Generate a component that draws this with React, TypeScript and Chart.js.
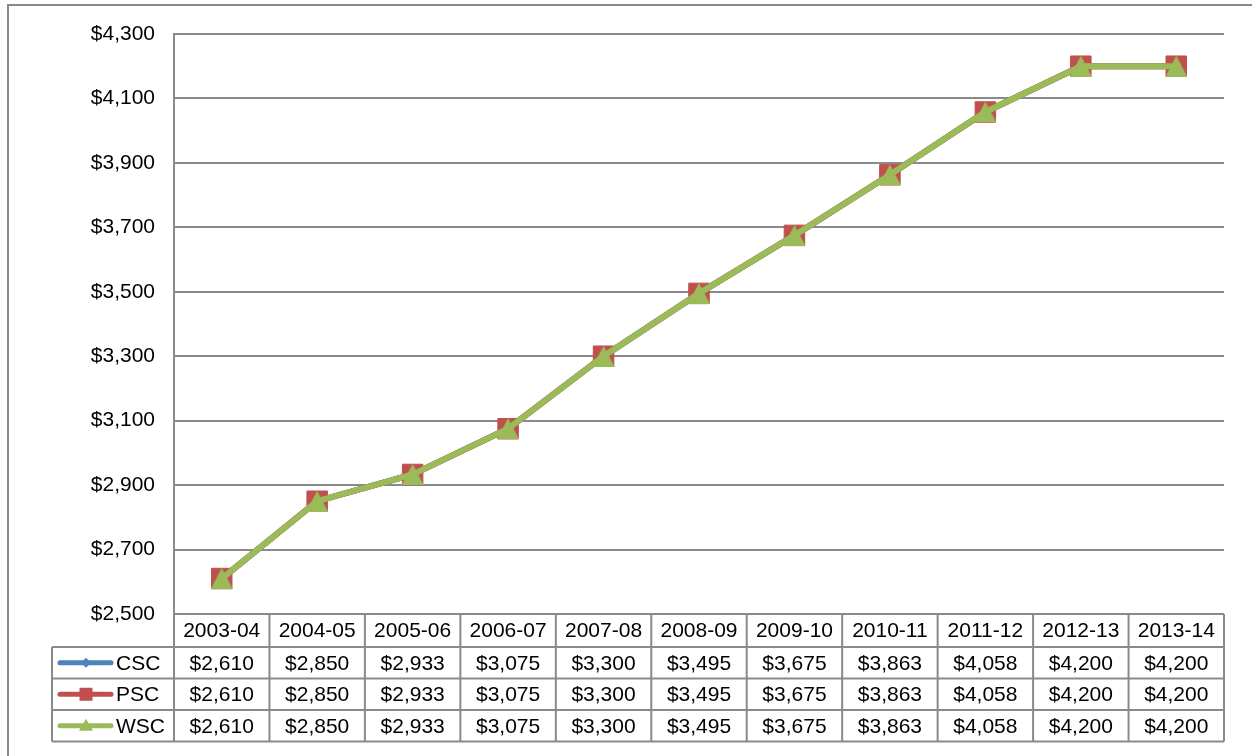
import React, { useEffect, useRef } from "react";
import { Chart, registerables } from "chart.js";

Chart.register(...registerables);

const categories = ["2003-04", "2004-05", "2005-06", "2006-07", "2007-08", "2008-09", "2009-10", "2010-11", "2011-12", "2012-13", "2013-14"];
const cscValues = [2610, 2850, 2933, 3075, 3300, 3495, 3675, 3863, 4058, 4200, 4200];
const pscValues = [2610, 2850, 2933, 3075, 3300, 3495, 3675, 3863, 4058, 4200, 4200];
const wscValues = [2610, 2850, 2933, 3075, 3300, 3495, 3675, 3863, 4058, 4200, 4200];
const seriesNames = ["CSC", "PSC", "WSC"];
const seriesColors = ["#4F81BD", "#C0504D", "#9BBB59"];

const FONT = "'Liberation Sans', Arial, sans-serif";
const GRID = "#8a8a8a";

const fmt = (v: number) => "$" + v.toLocaleString("en-US");

function makeTriangle(w: number, h: number, color: string) {
  const c = document.createElement("canvas");
  c.width = w;
  c.height = h;
  const g = c.getContext("2d")!;
  g.fillStyle = color;
  g.beginPath();
  g.moveTo(w / 2, 0);
  g.lineTo(w, h);
  g.lineTo(0, h);
  g.closePath();
  g.fill();
  return c;
}

const tablePlugin = {
  id: "dataTable",
  afterDraw(chart: any) {
    const ctx = chart.ctx as CanvasRenderingContext2D;
    const xs = chart.scales.x;
    const area = chart.chartArea;
    const n = categories.length;
    const bounds: number[] = [area.left];
    for (let i = 1; i < n; i++) {
      bounds.push((xs.getPixelForValue(i - 1) + xs.getPixelForValue(i)) / 2);
    }
    bounds.push(area.right);
    const legendLeft = 52;
    const rowTops = [area.bottom, area.bottom + 33, area.bottom + 64.5, area.bottom + 96];
    const tableBottom = area.bottom + 127.5;
    ctx.save();
    ctx.strokeStyle = GRID;
    ctx.lineWidth = 2;
    bounds.forEach((bx) => {
      ctx.beginPath();
      ctx.moveTo(bx, area.bottom);
      ctx.lineTo(bx, tableBottom);
      ctx.stroke();
    });
    ctx.beginPath();
    ctx.moveTo(legendLeft, rowTops[1]);
    ctx.lineTo(legendLeft, tableBottom);
    ctx.stroke();
    [rowTops[1], rowTops[2], rowTops[3], tableBottom].forEach((ty) => {
      ctx.beginPath();
      ctx.moveTo(legendLeft, ty);
      ctx.lineTo(area.right, ty);
      ctx.stroke();
    });
    ctx.fillStyle = "#000";
    ctx.font = `21px ${FONT}`;
    ctx.textAlign = "center";
    ctx.textBaseline = "middle";
    categories.forEach((c, i) => {
      const cx = xs.getPixelForValue(i);
      ctx.fillText(c, cx, (rowTops[0] + rowTops[1]) / 2 + 1);
    });
    const allVals = [cscValues, pscValues, wscValues];
    allVals.forEach((vals, r) => {
      const cy = (rowTops[r + 1] + (r + 2 < rowTops.length ? rowTops[r + 2] : tableBottom)) / 2 + 1;
      vals.forEach((v, i) => {
        ctx.fillText(fmt(v), xs.getPixelForValue(i), cy);
      });
      const color = seriesColors[r];
      ctx.strokeStyle = color;
      ctx.lineWidth = 5;
      ctx.lineCap = "round";
      ctx.beginPath();
      ctx.moveTo(60, cy - 1);
      ctx.lineTo(111, cy - 1);
      ctx.stroke();
      ctx.fillStyle = color;
      const mx = 86;
      const my = cy - 1;
      ctx.beginPath();
      if (r === 0) {
        ctx.moveTo(mx, my - 5);
        ctx.lineTo(mx + 5, my);
        ctx.lineTo(mx, my + 5);
        ctx.lineTo(mx - 5, my);
      } else if (r === 1) {
        ctx.rect(mx - 6.5, my - 6.5, 13, 13);
      } else {
        ctx.moveTo(mx, my - 7);
        ctx.lineTo(mx + 7, my + 5);
        ctx.lineTo(mx - 7, my + 5);
      }
      ctx.closePath();
      ctx.fill();
      ctx.fillStyle = "#000";
      ctx.textAlign = "left";
      ctx.fillText(seriesNames[r], 116, cy);
      ctx.textAlign = "center";
    });
    ctx.restore();
  },
  beforeDraw(chart: any) {
    const ctx = chart.ctx as CanvasRenderingContext2D;
    ctx.save();
    ctx.fillStyle = "#fff";
    ctx.fillRect(0, 0, chart.width, chart.height);
    ctx.strokeStyle = GRID;
    ctx.lineWidth = 2;
    ctx.strokeRect(8, 5, chart.width + 10, chart.height + 10);
    ctx.restore();
  },
};

export default function App() {
  const ref = useRef<HTMLCanvasElement>(null);
  useEffect(() => {
    if (!ref.current) return;
    const tri = makeTriangle(22, 21, seriesColors[2]);
    const mk = (i: number, data: number[], style: any, radius: number, order: number) => ({
      label: seriesNames[i],
      data,
      borderColor: seriesColors[i],
      backgroundColor: seriesColors[i],
      borderWidth: 6,
      pointStyle: style,
      pointRadius: radius,
      pointBorderWidth: 1,
      pointBorderColor: seriesColors[i],
      pointBackgroundColor: seriesColors[i],
      tension: 0,
      order,
    });
    const chart = new Chart(ref.current, {
      type: "line",
      data: {
        labels: categories,
        datasets: [
          mk(0, cscValues, "rectRot", 6, 3),
          mk(1, pscValues, "rect", 14.5, 2),
          mk(2, wscValues, tri, 11, 1),
        ],
      },
      plugins: [tablePlugin],
      options: {
        animation: false,
        responsive: false,
        devicePixelRatio: 1,
        layout: { padding: { left: 0, top: 34, right: 28, bottom: 142 } },
        plugins: { legend: { display: false }, tooltip: { enabled: false } },
        scales: {
          x: {
            display: false,
            offset: true,
          },
          y: {
            min: 2500,
            max: 4300,
            afterFit: (s: any) => {
              s.width = 174;
            },
            ticks: {
              stepSize: 200,
              padding: 19,
              color: "#000",
              font: { family: FONT, size: 21 },
              callback: (v: any) => fmt(Number(v)),
            },
            grid: { color: GRID, lineWidth: 2, drawTicks: false },
            border: { display: true, color: GRID, width: 2 },
          },
        },
      },
    });
    return () => chart.destroy();
  }, []);
  return (
    <div style={{ position: "absolute", left: 0, top: 0, width: 1252, height: 756 }}>
      <canvas ref={ref} width={1252} height={756} />
    </div>
  );
}
